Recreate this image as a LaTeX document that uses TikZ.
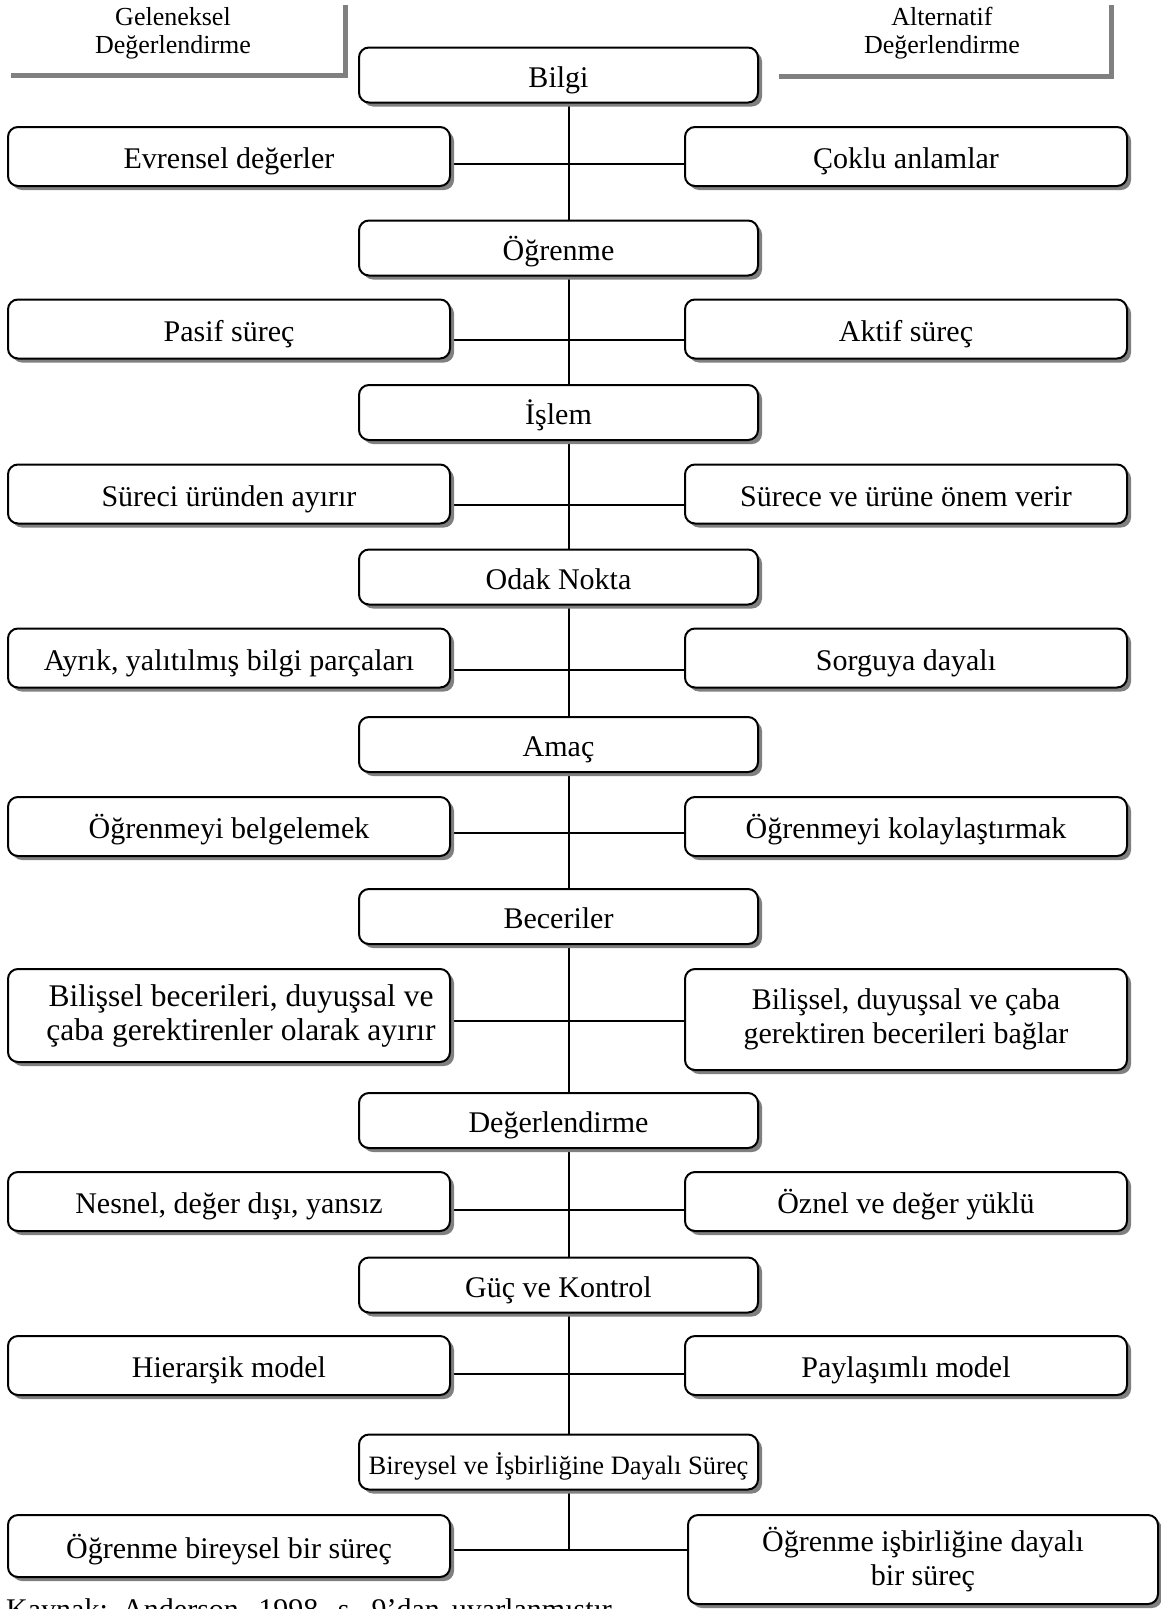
\documentclass[tikz,border=0pt]{standalone}
\usepackage{fontspec}
\setmainfont{Liberation Serif}
\usetikzlibrary{shadows,backgrounds}
\tikzset{
  box/.style={draw=black, line width=2pt, rounded corners=10pt, fill=white,
    inner sep=0pt, align=center, font=\fontsize{30}{34}\selectfont,
    drop shadow={shadow xshift=4pt, shadow yshift=-4pt, fill=black!50, opacity=1}},
  oneline/.style={text height=27pt, text depth=3pt},
  cbox/.style={box, oneline, minimum width=399pt, minimum height=55pt},
  sbox/.style={box, oneline, minimum width=442pt, minimum height=59pt},
  tbox/.style={box, minimum width=442pt},
  conn/.style={line width=2pt, draw=black},
  hdr/.style={align=center, inner sep=0pt, font=\fontsize{26}{28}\selectfont, anchor=north},
  hline/.style={line width=5pt, draw=black!50}
}
\begin{document}
\begin{tikzpicture}[x=1pt,y=-1pt]
\useasboundingbox (0,0) rectangle (1161,1609);

% headers
\node[hdr] (hL) at (173,7) {Geleneksel\\Değerlendirme};
\node[hdr] (hR) at (942,7) {Alternatif\\Değerlendirme};
\draw[hline] (11,75) -- (345,75) -- (345,5);
\draw[hline] (779,76) -- (1111,76) -- (1111,5);

% center column
\node[cbox] (C1) at (558.5,75) {Bilgi};
\node[cbox] (C2) at (558.5,248) {Öğrenme};
\node[cbox] (C3) at (558.5,412.5) {İşlem};
\node[cbox] (C4) at (558.5,577) {Odak Nokta};
\node[cbox] (C5) at (558.5,744.5) {Amaç};
\node[cbox] (C6) at (558.5,916.5) {Beceriler};
\node[cbox] (C7) at (558.5,1120.5) {Değerlendirme};
\node[cbox] (C8) at (558.5,1285) {Güç ve Kontrol};
\node[cbox, font=\fontsize{26.5}{30}\selectfont] (C9) at (558.5,1462) {Bireysel ve İşbirliğine Dayalı Süreç};

% side boxes
\node[sbox] (L1) at (229,156.5) {Evrensel değerler};
\node[sbox] (R1) at (906,156.5) {Çoklu anlamlar};
\node[sbox] (L2) at (229,329) {Pasif süreç};
\node[sbox] (R2) at (906,329) {Aktif süreç};
\node[sbox] (L3) at (229,494) {Süreci üründen ayırır};
\node[sbox] (R3) at (906,494) {Sürece ve ürüne önem verir};
\node[sbox] (L4) at (229,658) {Ayrık, yalıtılmış bilgi parçaları};
\node[sbox] (R4) at (906,658) {Sorguya dayalı};
\node[sbox] (L5) at (229,826.5) {Öğrenmeyi belgelemek};
\node[sbox] (R5) at (906,826.5) {Öğrenmeyi kolaylaştırmak};
\node[tbox, minimum height=93pt, font=\fontsize{31.5}{34}\selectfont] (L6) at (229,1015.5)
  {\hspace*{24pt}Bilişsel becerileri, duyuşsal ve\\\hspace*{24pt}çaba gerektirenler olarak ayırır};
\node[tbox, minimum height=101pt] (R6) at (906,1019.5)
  {Bilişsel, duyuşsal ve çaba\\gerektiren becerileri bağlar};
\node[sbox] (L7) at (229,1201.5) {Nesnel, değer dışı, yansız};
\node[sbox] (R7) at (906,1201.5) {Öznel ve değer yüklü};
\node[sbox] (L8) at (229,1365.5) {Hierarşik model};
\node[sbox] (R8) at (906,1365.5) {Paylaşımlı model};
\node[sbox, minimum height=62pt] (L9) at (229,1546) {Öğrenme bireysel bir süreç};
\node[box, minimum width=470pt, minimum height=89pt] (R9) at (923,1559.5)
  {Öğrenme işbirliğine dayalı\\bir süreç};

% source line (cut by the page edge, as in the reference)
\node[anchor=base west, inner sep=0pt, font=\fontsize{30}{34}\selectfont] (src) at (6,1619)
  {\spaceskip=12pt Kaynak: Anderson, 1998, s. 9'dan uyarlanmıştır.};

% connectors
\coordinate (vx) at (569,0);
\coordinate (h1) at (569,164);
\coordinate (h2) at (569,340);
\coordinate (h3) at (569,505);
\coordinate (h4) at (569,670);
\coordinate (h5) at (569,833);
\coordinate (h6) at (569,1021);
\coordinate (h7) at (569,1210);
\coordinate (h8) at (569,1374);
\coordinate (h9) at (569,1550);
\begin{pgfonlayer}{background}
\draw[conn] (C1.south -| vx) -- (C2.north -| vx);
\draw[conn] (C2.south -| vx) -- (C3.north -| vx);
\draw[conn] (C3.south -| vx) -- (C4.north -| vx);
\draw[conn] (C4.south -| vx) -- (C5.north -| vx);
\draw[conn] (C5.south -| vx) -- (C6.north -| vx);
\draw[conn] (C6.south -| vx) -- (C7.north -| vx);
\draw[conn] (C7.south -| vx) -- (C8.north -| vx);
\draw[conn] (C8.south -| vx) -- (C9.north -| vx);
\draw[conn] (C9.south -| vx) -- (h9);
\draw[conn] (L1.east |- h1) -- (R1.west |- h1);
\draw[conn] (L2.east |- h2) -- (R2.west |- h2);
\draw[conn] (L3.east |- h3) -- (R3.west |- h3);
\draw[conn] (L4.east |- h4) -- (R4.west |- h4);
\draw[conn] (L5.east |- h5) -- (R5.west |- h5);
\draw[conn] (L6.east |- h6) -- (R6.west |- h6);
\draw[conn] (L7.east |- h7) -- (R7.west |- h7);
\draw[conn] (L8.east |- h8) -- (R8.west |- h8);
\draw[conn] (L9.east |- h9) -- (R9.west |- h9);
\end{pgfonlayer}
\end{tikzpicture}
\end{document}
